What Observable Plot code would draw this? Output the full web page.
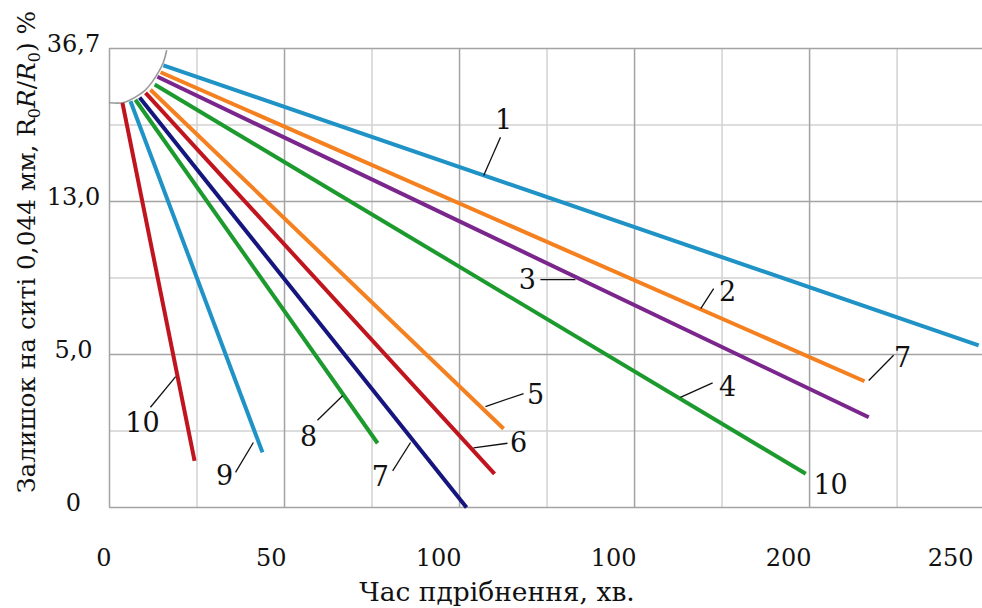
<!DOCTYPE html>
<html>
<head>
<meta charset="utf-8">
<script src="https://cdn.jsdelivr.net/npm/d3@7"></script>
<script src="https://cdn.jsdelivr.net/npm/@observablehq/plot@0.6"></script>
<style>
  html, body { margin: 0; padding: 0; background: #fff; }
  #chart { width: 982px; height: 608px; }
</style>
</head>
<body>
<div id="chart"></div>
<script>
// ---- data (time in min, level in grid units of the transformed residue axis) ----
const curveIds   = [1, 2, 3, 4, 5, 6, 7, 8, 9, 10];
const startTime  = [15.4, 14.6, 13.7, 12.9, 11.7, 10.3, 8.6, 7.4, 6.0, 3.7];
const startLevel = [5.78, 5.69, 5.63, 5.53, 5.46, 5.42, 5.36, 5.33, 5.31, 5.29];
const endTime    = [248.3, 215.7, 216.9, 198.9, 112.6, 110.0, 102.0, 76.6, 43.7, 24.3];
const endLevel   = [2.12, 1.65, 1.18, 0.44, 1.03, 0.44, 0.0, 0.84, 0.72, 0.61];
const curveColors = ["#1f92c6", "#f5801f", "#7a268c", "#1c9a2e", "#f5801f", "#c0141e", "#15157e", "#1c9a2e", "#1f92c6", "#c0141e"];

// arc joining the line starts
const arcTime  = [0, 3.7, 6.0, 8.3, 10.3, 12.3, 14.0, 15.4, 16.3];
const arcLevel = [5.29, 5.29, 5.33, 5.39, 5.46, 5.57, 5.69, 5.82, 5.97];

// ticks
const xTickValues = [0, 50, 100, 150, 200, 250];
const xTickLabels = ["0", "50", "100", "100", "200", "250"];
const xMinorGrid = [25, 75, 125, 175, 225];
const xMajorGrid = [50, 100, 150, 200];
const yTickValues = [0, 2, 4, 6];
const yTickLabels = ["0", "5,0", "13,0", "36,7"];
const yMinorGrid = [1, 3, 5];
const yMajorGrid = [2, 4];

// curve labels
const labelText  = ["1", "2", "3", "4", "7", "10", "5", "6", "7", "8", "9", "10"];
const labelTime  = [112.6, 176.6, 119.4, 176.6, 226.6, 206.0, 121.7, 116.9, 77.4, 56.9, 32.9, 9.4];
const labelLevel = [5.06, 2.81, 2.97, 1.57, 1.95, 0.29, 1.46, 0.84, 0.39, 0.92, 0.41, 1.10];
// leader lines
const leadT1 = [106.9, 168.9, 123.1, 163.1, 216.9, 107.4, 104.0, 86.0, 66.6, 41.1, 18.9];
const leadL1 = [4.34, 2.60, 2.98, 1.44, 1.66, 1.32, 0.78, 0.85, 1.46, 0.85, 1.71];
const leadT2 = [111.7, 172.6, 133.1, 172.3, 224.0, 118.3, 113.7, 80.9, 59.4, 36.0, 11.7];
const leadL2 = [4.84, 2.86, 2.98, 1.63, 1.99, 1.49, 0.84, 0.48, 1.14, 0.46, 1.31];

const xTitle = "Час пдрібнення, хв.";
const yTitle = "Залишок на ситі 0,044 мм, R0R/R0) %";

// ---- derived tables ----
const lineRows = curveIds.flatMap((id, i) => [
  {id, t: startTime[i], v: startLevel[i]},
  {id, t: endTime[i], v: endLevel[i]}
]);
const arcRows = arcTime.map((t, i) => ({t, v: arcLevel[i]}));
const labelRows = labelText.map((s, i) => ({s, t: labelTime[i], v: labelLevel[i]}));
const leadRows = leadT1.map((t, i) => ({t1: t, v1: leadL1[i], t2: leadT2[i], v2: leadL2[i]}));
const xTicks = xTickValues.map((t, i) => ({t, s: xTickLabels[i]}));
const yTicks = yTickValues.map((v, i) => ({v, s: yTickLabels[i]}));

const minorC = "#d2d2d2", majorC = "#a3a3a3";

const chart = Plot.plot({
  width: 982,
  height: 608,
  marginLeft: 109,
  marginRight: 0,
  marginTop: 48,
  marginBottom: 101,
  style: {fontFamily: "'DejaVu Serif', serif", background: "#fff"},
  x: {domain: [0, 249.4], axis: null},
  y: {domain: [0, 6], axis: null},
  color: {type: "ordinal", domain: curveIds, range: curveColors},
  marks: [
    Plot.ruleX(xMinorGrid, {stroke: minorC, strokeWidth: 1.5}),
    Plot.ruleY(yMinorGrid, {stroke: minorC, strokeWidth: 1.5}),
    Plot.ruleX(xMajorGrid, {stroke: majorC, strokeWidth: 1.5}),
    Plot.ruleY(yMajorGrid, {stroke: majorC, strokeWidth: 1.5}),
    Plot.ruleY([0, 6], {stroke: majorC, strokeWidth: 1.5}),
    Plot.ruleX([0], {stroke: majorC, strokeWidth: 1.5}),
    Plot.line(arcRows, {x: "t", y: "v", stroke: "#9a9a9a", strokeWidth: 1.6, curve: "catmull-rom"}),
    Plot.line(lineRows, {x: "t", y: "v", z: "id", stroke: "id", strokeWidth: 4, strokeLinecap: "butt"}),
    Plot.link(leadRows, {x1: "t1", y1: "v1", x2: "t2", y2: "v2", stroke: "#111", strokeWidth: 1.3}),
    Plot.text(labelRows, {x: "t", y: "v", text: "s", fontSize: 27, fill: "#111"}),
    // y tick labels
    Plot.text(yTicks, {x: 0, y: "v", text: "s", dx: -36, dy: -4, fontSize: 24, fill: "#111", textAnchor: "middle"}),
    // x tick labels
    Plot.text(xTicks.slice(0, 5), {x: "t", text: "s", frameAnchor: "bottom", dy: 58, dx: 2, textAnchor: "end", fontSize: 24, fill: "#111"}),
    Plot.text(xTicks.slice(5), {x: "t", text: "s", frameAnchor: "bottom", dy: 58, dx: -11, textAnchor: "end", fontSize: 24, fill: "#111"}),
    // axis titles
    Plot.text([xTitle], {frameAnchor: "bottom", dx: -49, dy: 93, fontSize: 26.5, fill: "#111", textAnchor: "middle"}),
    Plot.text([yTitle], {frameAnchor: "left", rotate: -90, dx: -82, dy: -26, fontSize: 24.8, fill: "#111", textAnchor: "middle"})
  ]
});
document.getElementById("chart").appendChild(chart);

// rich text for the y title (subscripts and italics)
d3.select(chart).selectAll("text").filter(function () { return this.textContent === yTitle; })
  .each(function () {
    const t = d3.select(this);
    t.text(null);
    const parts = [
      {s: "Залишок на ситі 0,044 мм, "},
      {s: "R"},
      {s: "0", sub: true},
      {s: "R", it: true},
      {s: "/"},
      {s: "R", it: true},
      {s: "0", sub: true},
      {s: ") %"}
    ];
    let shifted = false;
    for (const p of parts) {
      const ts = t.append("tspan").text(p.s);
      if (p.it) ts.attr("font-style", "italic");
      if (p.sub) { ts.attr("font-size", "16").attr("dy", "5"); shifted = true; }
      else if (shifted) { ts.attr("dy", "-5"); shifted = false; }
    }
  });
</script>
</body>
</html>
